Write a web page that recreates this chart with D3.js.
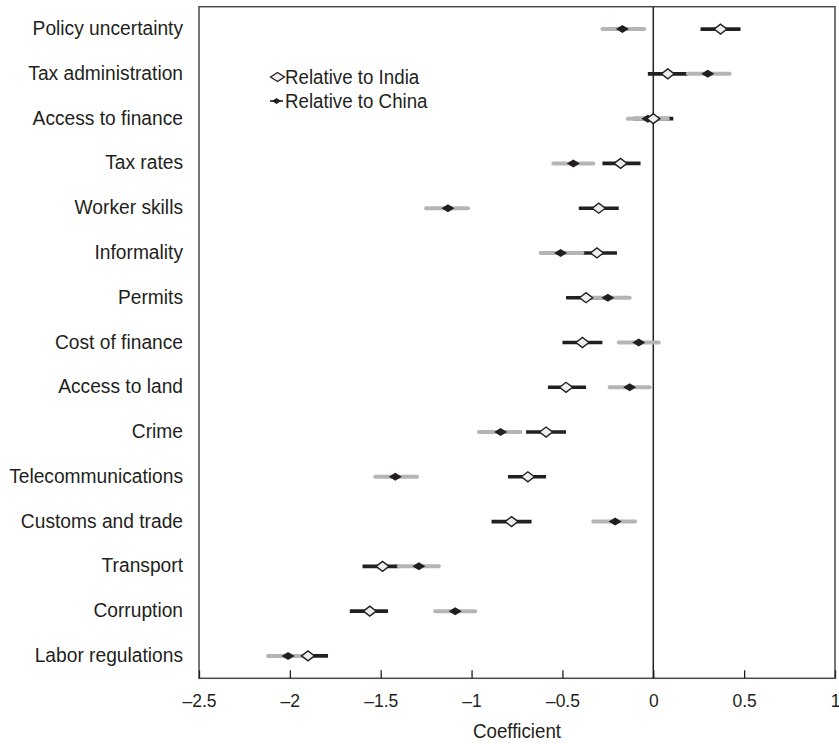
<!DOCTYPE html>
<html>
<head>
<meta charset="utf-8">
<script src="https://cdnjs.cloudflare.com/ajax/libs/d3/7.8.5/d3.min.js"></script>
<style>
  body { margin: 0; background: #fff; }
  text { font-family: "Liberation Sans", Arial, sans-serif; fill: #231f20; }
</style>
</head>
<body>
<script>
const categories = ['Policy uncertainty', 'Tax administration', 'Access to finance', 'Tax rates',
  'Worker skills', 'Informality', 'Permits', 'Cost of finance', 'Access to land', 'Crime',
  'Telecommunications', 'Customs and trade', 'Transport', 'Corruption', 'Labor regulations'];

// relative to India (white diamond, black interval)
const indiaCoef = [0.37, 0.08, 0.00, -0.18, -0.30, -0.31, -0.37, -0.39, -0.48, -0.59, -0.69, -0.78, -1.49, -1.56, -1.90];
const indiaLow  = [0.26, -0.03, -0.11, -0.28, -0.41, -0.41, -0.48, -0.50, -0.58, -0.70, -0.80, -0.89, -1.60, -1.67, -2.00];
const indiaHigh = [0.48, 0.19, 0.11, -0.07, -0.19, -0.20, -0.27, -0.28, -0.37, -0.48, -0.59, -0.67, -1.40, -1.46, -1.79];

// relative to China (black diamond, grey interval)
const chinaCoef = [-0.17, 0.30, -0.03, -0.44, -1.13, -0.51, -0.25, -0.08, -0.13, -0.84, -1.42, -0.21, -1.29, -1.09, -2.01];
const chinaLow  = [-0.28, 0.19, -0.14, -0.55, -1.25, -0.62, -0.36, -0.19, -0.24, -0.96, -1.53, -0.33, -1.40, -1.20, -2.12];
const chinaHigh = [-0.05, 0.42, 0.08, -0.33, -1.02, -0.39, -0.13, 0.03, -0.02, -0.73, -1.30, -0.10, -1.18, -0.98, -1.90];

const xTicks = [-2.5, -2, -1.5, -1, -0.5, 0, 0.5, 1];

const w = 839, h = 744;
const m = { left: 199, right: 835, top: 6.7, bottom: 678.3 };
const dark = '#231f20', grey = '#b5b5b5';
const sx = 0.96; // squeeze text a little, the original uses a condensed face

const svg = d3.select('body').append('svg')
  .attr('width', w)
  .attr('height', h);

const x = d3.scaleLinear().domain([-2.5, 1]).range([m.left, m.right]);
const y = d3.scaleBand().domain(categories).range([m.top, m.bottom]);
const yc = c => y(c) + y.bandwidth() / 2;

const india = categories.map((c, i) => ({ c, v: indiaCoef[i], lo: indiaLow[i], hi: indiaHigh[i] }));
const china = categories.map((c, i) => ({ c, v: chinaCoef[i], lo: chinaLow[i], hi: chinaHigh[i] }));

// frame
svg.append('rect')
  .attr('x', m.left).attr('y', m.top)
  .attr('width', m.right - m.left).attr('height', m.bottom - m.top)
  .attr('fill', 'none').attr('stroke', '#4a4a4a').attr('stroke-width', 1.5);

// x axis, ticks pointing inward
const xAxis = d3.axisBottom(x)
  .tickValues(xTicks)
  .tickSizeInner(-8).tickSizeOuter(0)
  .tickPadding(16)
  .tickFormat(d => String(d).replace('-', '\u2013'));

const gx = svg.append('g').attr('transform', `translate(0,${m.bottom})`).call(xAxis);
gx.select('.domain').remove();
gx.selectAll('.tick line').attr('stroke', dark).attr('stroke-width', 1.3);
gx.selectAll('.tick text').attr('font-size', 17.5).attr('fill', dark)
  .style('font-family', '"Liberation Sans", Arial, sans-serif');

svg.append('text')
  .attr('transform', `translate(${(m.left + m.right) / 2},738) scale(${sx},1)`)
  .attr('text-anchor', 'middle')
  .attr('font-size', 19.5)
  .text('Coefficient');

// category labels
svg.selectAll('.cat')
  .data(categories)
  .enter()
  .append('text')
  .attr('class', 'cat')
  .attr('transform', d => `translate(183,${yc(d) - 1}) scale(${sx},1)`)
  .attr('dy', '0.35em')
  .attr('text-anchor', 'end')
  .attr('font-size', 20)
  .text(d => d);

// zero line
svg.append('line')
  .attr('x1', x(0)).attr('x2', x(0))
  .attr('y1', m.top).attr('y2', m.bottom)
  .attr('stroke', dark).attr('stroke-width', 1.5);

// intervals
svg.selectAll('.ci-india')
  .data(india)
  .enter()
  .append('line')
  .attr('class', 'ci-india')
  .attr('x1', d => x(d.lo)).attr('x2', d => x(d.hi))
  .attr('y1', d => yc(d.c)).attr('y2', d => yc(d.c))
  .attr('stroke', dark).attr('stroke-width', 3.6);

svg.selectAll('.ci-china')
  .data(china)
  .enter()
  .append('line')
  .attr('class', 'ci-china')
  .attr('x1', d => x(d.lo)).attr('x2', d => x(d.hi))
  .attr('y1', d => yc(d.c)).attr('y2', d => yc(d.c))
  .attr('stroke', grey).attr('stroke-width', 4)
  .attr('stroke-linecap', 'round');

const diamond = (cx, cy, rx, ry) =>
  `M${cx - rx},${cy}L${cx},${cy - ry}L${cx + rx},${cy}L${cx},${cy + ry}Z`;

svg.selectAll('.pt-china')
  .data(china)
  .enter()
  .append('path')
  .attr('class', 'pt-china')
  .attr('d', d => diamond(x(d.v), yc(d.c), 6.5, 4))
  .attr('fill', dark);

svg.selectAll('.pt-india')
  .data(india)
  .enter()
  .append('path')
  .attr('class', 'pt-india')
  .attr('d', d => diamond(x(d.v), yc(d.c), 6.5, 5))
  .attr('fill', '#eeeeee').attr('stroke', dark).attr('stroke-width', 1.4);

// legend
svg.append('path')
  .attr('d', diamond(277.5, 77, 7, 4.5))
  .attr('fill', '#eeeeee').attr('stroke', dark).attr('stroke-width', 1.3);
svg.append('text')
  .attr('transform', `translate(285,77) scale(${sx},1)`)
  .attr('dy', '0.35em')
  .attr('font-size', 19.5).text('Relative to India');

svg.append('line')
  .attr('x1', 270).attr('x2', 283).attr('y1', 101).attr('y2', 101)
  .attr('stroke', dark).attr('stroke-width', 1.6);
svg.append('path')
  .attr('d', diamond(276.5, 101, 4.5, 3))
  .attr('fill', dark);
svg.append('text')
  .attr('transform', `translate(285,101) scale(${sx},1)`)
  .attr('dy', '0.35em')
  .attr('font-size', 19.5).text('Relative to China');
</script>
</body>
</html>
